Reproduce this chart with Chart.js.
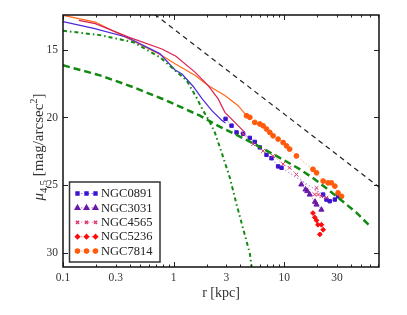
<!DOCTYPE html>
<html>
<head>
<meta charset="utf-8">
<script src="https://cdn.jsdelivr.net/npm/chart.js@4.4.0/dist/chart.umd.min.js"></script>
<style>
  html, body { margin: 0; padding: 0; background: #fff; }
</style>
</head>
<body>
<canvas id="profileChart" width="407" height="315"></canvas>
<script>
// tick labels
const xTicks = [0.1, 0.3, 1, 3, 10, 30];
const yTicks = [15, 20, 25, 30];

// model curves
const bulgeR  = [0.1, 0.216, 0.432, 0.752, 1.03, 1.31, 1.61, 1.85, 2.05, 2.36, 2.75, 3.23, 3.71, 4.26, 4.89, 5.07, 5.2];
const bulgeMu = [13.62, 13.94, 14.46, 15.57, 16.53, 17.27, 18.53, 19.5, 20.1, 21.1, 22.7, 24.44, 26.4, 28.2, 30.0, 30.98, 31.6];
const diskR  = [0.1, 0.216, 0.432, 0.865, 1.73, 2.53, 5.24, 9.78, 13.8, 18.2, 24.1, 31.8, 45, 61.5];
const diskMu = [16.16, 16.9, 17.77, 18.76, 19.87, 20.61, 21.9, 23.1, 23.8, 24.45, 25.2, 26.0, 27.0, 28.1];
const refR  = [0.5, 80];
const refMu = [11.6, 25.4];

// inner profiles (solid lines)
const n0891LineR  = [0.1, 0.19, 0.38, 0.75, 1.03, 1.19, 1.5, 1.8, 2.22, 2.72, 2.95];
const n0891LineMu = [12.95, 13.45, 14.1, 15.3, 16.5, 16.8, 17.7, 18.6, 19.5, 20.2, 20.4];
const n4565LineR  = [0.139, 0.196, 0.392, 0.784, 1.05, 1.56, 2.05, 2.53, 2.91, 3.58, 4.4];
const n4565LineMu = [12.85, 13.1, 14.09, 14.96, 15.5, 16.66, 17.64, 18.63, 19.62, 20.36, 21.1];
const n7814LineR  = [0.1, 0.196, 0.392, 0.784, 1.03, 1.56, 2.05, 2.91, 3.84, 4.56];
const n7814LineMu = [12.48, 12.98, 14.21, 15.44, 16.04, 16.9, 17.64, 18.39, 19.13, 19.87];

// outer profiles (markers)
const n0891R  = [2.95, 3.34, 3.71, 4.26, 4.89, 5.42, 6.02, 6.92, 7.68, 8.81, 9.46, 22.5, 24.1, 25.8, 28.7, 30.7];
const n0891Mu = [20.1, 20.6, 21.1, 21.2, 21.5, 21.8, 22.2, 22.75, 23.0, 23.6, 23.7, 25.67, 26.04, 26.16, 26.04, 25.8];
const n3031R  = [14.3, 15.6, 16.2, 17.0, 19.0, 19.6, 21.7];
const n3031Mu = [24.93, 25.3, 25.42, 25.67, 26.2, 26.41, 26.78];
const n4565R  = [4.25, 5.24, 6.45, 7.94, 9.78, 11.2, 12.9, 18.9, 19.6, 20.2, 21.7, 24.1];
const n4565Mu = [21.2, 21.96, 22.46, 22.83, 23.42, 23.7, 24.19, 25.67, 25.18, 25.67, 25.8, 25.9];
const n5236R  = [18.2, 18.9, 19.6, 20.2, 21.7, 22.5, 21.0];
const n5236Mu = [27.03, 27.35, 27.57, 27.89, 27.89, 28.26, 28.6];
const n7814R  = [4.56, 4.89, 5.42, 6.02, 6.45, 6.92, 7.41, 7.94, 8.81, 9.78, 10.5, 11.2, 12.9, 18.2, 19.6, 22.5, 24.9, 26.7, 28.7, 30.7, 33.0];
const n7814Mu = [19.87, 19.99, 20.36, 20.48, 20.61, 20.85, 21.1, 21.35, 21.59, 21.84, 22.09, 22.33, 22.83, 23.81, 24.07, 24.68, 24.81, 24.81, 25.05, 25.55, 25.8];

const pts = (r, mu) => r.map((v, i) => ({ x: v, y: mu[i] }));
const FONT = "'Liberation Serif', 'Times New Roman', serif";

const line = (label, r, mu, color, width, dash, order) => ({
  label, data: pts(r, mu), showLine: true, borderColor: color, borderWidth: width,
  borderDash: dash, pointRadius: 0, fill: false, order
});
const marks = (label, r, mu, color, faint, style, radius, order) => ({
  label, data: pts(r, mu), showLine: true, borderColor: faint, borderWidth: 1,
  borderDash: [1.5, 2], pointStyle: style, pointRadius: radius,
  pointBackgroundColor: color, pointBorderColor: color, pointBorderWidth: 1,
  fill: false, order, inLegend: true, markColor: color, lineColor: faint
});

const datasets = [
  line('ref', refR, refMu, '#222', 1.2, [5, 4], 0),
  line('disk', diskR, diskMu, '#128a12', 2.5, [7, 4], 1),
  line('bulge', bulgeR, bulgeMu, '#128a12', 2, [4, 3, 1.5, 3], 2),
  marks('NGC0891', n0891R, n0891Mu, '#3a12d0', 'rgba(58,18,208,0.55)', 'rect', 2.4, 6),
  marks('NGC3031', n3031R, n3031Mu, '#6a18aa', 'rgba(106,24,170,0.55)', 'triangle', 3, 7),
  marks('NGC4565', n4565R, n4565Mu, '#e0386e', 'rgba(224,56,110,0.5)', 'crossRot', 2.6, 5),
  marks('NGC5236', n5236R, n5236Mu, '#ff0a0a', 'rgba(255,10,10,0.55)', 'rectRot', 2.4, 4),
  marks('NGC7814', n7814R, n7814Mu, '#ff5a0a', 'rgba(255,90,10,0.45)', 'circle', 2.4, 3),
  line('0891 inner', n0891LineR, n0891LineMu, '#4a28e0', 1.2, [], 9),
  line('4565 inner', n4565LineR, n4565LineMu, '#dc2050', 1.2, [], 8),
  line('7814 inner', n7814LineR, n7814LineMu, '#ff6a1a', 1.2, [], 10)
];

const framePlugin = {
  id: 'frame',
  afterDraw(chart) {
    const { ctx, chartArea: a, scales: { x, y } } = chart;
    ctx.save();
    // minor and major x ticks, inward on top and bottom
    ctx.strokeStyle = '#222';
    ctx.lineWidth = 1;
    for (const d of [0.1, 1, 10]) {
      for (let k = 1; k <= 9; k++) {
        const v = k * d;
        if (v < x.min || v > x.max) continue;
        const px = Math.round(x.getPixelForValue(v)) + 0.5;
        const len = k === 1 ? 5 : 2.5;
        ctx.beginPath();
        ctx.moveTo(px, a.bottom); ctx.lineTo(px, a.bottom - len);
        ctx.moveTo(px, a.top); ctx.lineTo(px, a.top + len);
        ctx.stroke();
      }
    }
    for (const v of yTicks) {
      const py = Math.round(y.getPixelForValue(v)) + 0.5;
      ctx.beginPath();
      ctx.moveTo(a.left, py); ctx.lineTo(a.left + 5, py);
      ctx.moveTo(a.right, py); ctx.lineTo(a.right - 5, py);
      ctx.stroke();
    }
    // frame
    ctx.lineWidth = 1.5;
    ctx.strokeStyle = '#111';
    ctx.strokeRect(a.left, a.top, a.right - a.left, a.bottom - a.top);

    // legend
    const lx = 69.5, ly = 182, lw = 90.5, lh = 80;
    ctx.fillStyle = '#fff';
    ctx.fillRect(lx, ly, lw, lh);
    ctx.lineWidth = 1.5;
    ctx.strokeStyle = '#333';
    ctx.strokeRect(lx, ly, lw, lh);
    const items = chart.data.datasets.filter(ds => ds.inLegend);
    items.forEach((ds, i) => {
      const cy = 193.5 + i * 14.4;
      ctx.save();
      ctx.strokeStyle = ds.lineColor;
      ctx.lineWidth = 1;
      ctx.setLineDash([1.5, 2]);
      ctx.beginPath(); ctx.moveTo(77.5, cy); ctx.lineTo(95.5, cy); ctx.stroke();
      ctx.restore();
      ctx.fillStyle = ds.markColor;
      ctx.strokeStyle = ds.markColor;
      for (const mx of [77.5, 86.5, 95.5]) {
        Chart.helpers.drawPoint(ctx, { pointStyle: ds.pointStyle, radius: ds.pointRadius * 0.85, borderWidth: 1, rotation: 0 }, mx, cy);
      }
      ctx.fillStyle = '#222';
      ctx.font = '12.5px ' + FONT;
      ctx.textBaseline = 'middle';
      ctx.textAlign = 'left';
      ctx.fillText(ds.label, 101, cy + 0.5);
    });

    // x title
    ctx.fillStyle = '#333';
    ctx.font = '14px ' + FONT;
    ctx.textAlign = 'center';
    ctx.textBaseline = 'middle';
    ctx.fillText('r [kpc]', (a.left + a.right) / 2, 293);

    // y title with sub/superscripts
    const parts = [
      { t: 'μ', f: 'italic 15px ' + FONT, dy: 0 },
      { t: '4.5', f: '10.5px ' + FONT, dy: 3.5 },
      { t: ' [mag/arcsec', f: '15px ' + FONT, dy: 0 },
      { t: '2', f: '10.5px ' + FONT, dy: -6 },
      { t: ']', f: '15px ' + FONT, dy: 0 }
    ];
    let total = 0;
    for (const p of parts) { ctx.font = p.f; p.w = ctx.measureText(p.t).width; total += p.w; }
    ctx.translate(38, 147);
    ctx.rotate(-Math.PI / 2);
    ctx.textAlign = 'left';
    ctx.textBaseline = 'alphabetic';
    let cx = -total / 2;
    for (const p of parts) {
      ctx.font = p.f;
      ctx.fillText(p.t, cx, 5 + p.dy);
      cx += p.w;
    }
    ctx.restore();
  }
};

new Chart(document.getElementById('profileChart'), {
  type: 'scatter',
  data: { datasets },
  options: {
    responsive: false,
    animation: false,
    layout: { padding: { left: 0, top: 15, right: 28, bottom: 0 } },
    plugins: { legend: { display: false }, tooltip: { enabled: false } },
    scales: {
      x: {
        type: 'logarithmic',
        min: 0.1,
        max: 72,
        grid: { display: false, drawTicks: false, tickLength: 0 },
        border: { display: false },
        afterBuildTicks: s => { s.ticks = xTicks.map(v => ({ value: v })); },
        afterFit: s => { s.height = 48; },
        ticks: {
          autoSkip: false, maxRotation: 0, padding: 4, color: '#333',
          font: { family: FONT, size: 11.5 },
          callback: v => String(v)
        }
      },
      y: {
        type: 'linear',
        reverse: true,
        min: 12.46,
        max: 31,
        grid: { display: false, drawTicks: false, tickLength: 0 },
        border: { display: false },
        afterBuildTicks: s => { s.ticks = yTicks.map(v => ({ value: v })); },
        afterFit: s => { s.width = 63; },
        ticks: {
          padding: 5, color: '#333',
          font: { family: FONT, size: 11.5 },
          callback: v => String(v)
        }
      }
    }
  },
  plugins: [framePlugin]
});
</script>
</body>
</html>
